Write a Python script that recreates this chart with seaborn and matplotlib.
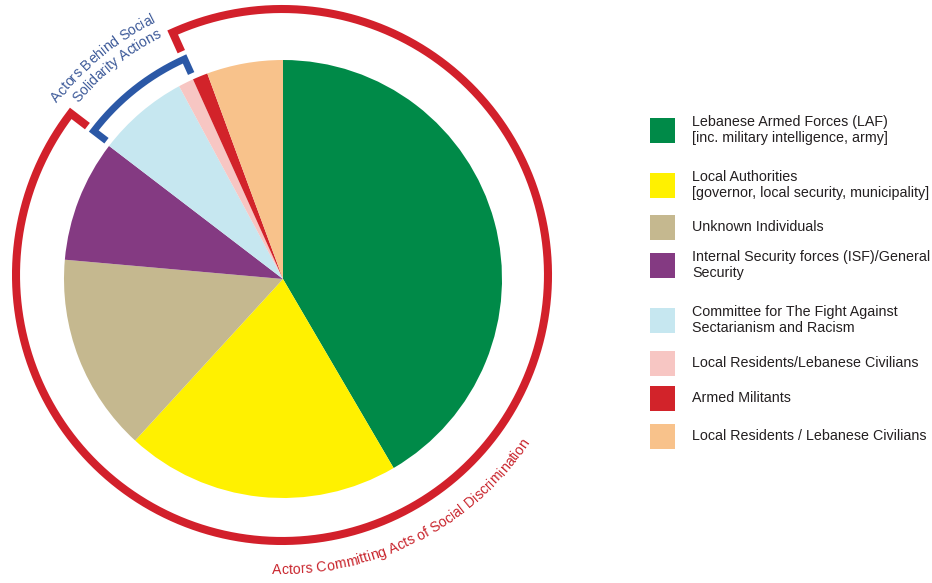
import numpy as np
import matplotlib
matplotlib.use("Agg")
import matplotlib.pyplot as plt
import seaborn as sns
from matplotlib.patches import Rectangle
from matplotlib.font_manager import FontProperties, findfont, get_font

# ---------------- data ----------------
categories = [
    "Lebanese Armed Forces (LAF)\n[inc. military intelligence, army]",
    "Local Authorities\n[governor, local security, municipality]",
    "Unknown Individuals",
    "Internal Security forces (ISF)/General\nSecurity",
    "Committee for The Fight Against\nSectarianism and Racism",
    "Local Residents/Lebanese Civilians",
    "Armed Militants",
    "Local Residents / Lebanese Civilians",
]
values = [37, 18, 13, 8, 6, 1, 1, 5]
groups = ["disc", "disc", "disc", "disc", "sol", "sol", "disc", "disc"]
colors = ["#008a48", "#fff100", "#c5b88f", "#843a82",
          "#c6e7f0", "#f7c6c3", "#d2232a", "#f8c28b"]
label_discrimination = "Actors Committing Acts of Social Discrimination"
label_solidarity = ["Actors Behind Social", "Solidarity Actions"]

# ---------------- style ----------------
sns.set_theme(style="white")
plt.rcParams["font.family"] = ["Liberation Sans", "DejaVu Sans"]

W, H, DPI = 932, 583, 100
fig = plt.figure(figsize=(W / DPI, H / DPI), dpi=DPI)
ax = fig.add_axes([0, 0, 1, 1])

# pie (pixel coordinates, y up)
pie_c = (283, H - 279)
pie_r = 219
ax.pie(values, colors=colors, startangle=90, counterclock=False,
       center=pie_c, radius=pie_r, wedgeprops=dict(linewidth=0))

ax.set_xlim(0, W)
ax.set_ylim(0, H)
ax.set_aspect("auto")
ax.axis("off")

# group boundary angles derived from the data
total = float(sum(values))
cum = np.concatenate([[0], np.cumsum(values)])
sol_idx = [i for i, g in enumerate(groups) if g == "sol"]
a_sol_start = 90 - 360 * cum[min(sol_idx)] / total       # ~142.4
a_sol_end = 90 - 360 * cum[max(sol_idx) + 1] / total      # ~114.3

ring_c = (282, H - 275)
red = "#d2202b"
blue = "#2b58a6"


def bracket(a1, a2, r, r_in, color, lw):
    t = np.radians(np.linspace(a1, a2, 400))
    xs = np.concatenate([[ring_c[0] + r_in * np.cos(t[0])],
                         ring_c[0] + r * np.cos(t),
                         [ring_c[0] + r_in * np.cos(t[-1])]])
    ys = np.concatenate([[ring_c[1] + r_in * np.sin(t[0])],
                         ring_c[1] + r * np.sin(t),
                         [ring_c[1] + r_in * np.sin(t[-1])]])
    ax.plot(xs, ys, color=color, lw=lw, solid_joinstyle="miter",
            solid_capstyle="butt")


# red: everything except the solidarity group
bracket(a_sol_start, a_sol_end + 360, 266, 245, red, 5.8)
# blue: solidarity group
bracket(a_sol_end, a_sol_start, 237, 221, blue, 5.0)


# ---------------- curved text ----------------
def char_advances(text, fs):
    fp = FontProperties(family="Liberation Sans", size=fs)
    font = get_font(findfont(fp))
    font.set_size(fs, DPI)
    adv = []
    for ch in text:
        try:
            g = font.load_char(ord(ch))
            adv.append(g.linearHoriAdvance / 65536.0)
        except Exception:
            adv.append(0.55 * fs * DPI / 72)
    return np.array(adv)


def curved_text(text, r, center_deg, clockwise, fs, color):
    adv = char_advances(text, fs)
    pos = np.cumsum(adv) - adv / 2
    pos -= adv.sum() / 2
    for ch, p in zip(text, pos):
        d = np.degrees(p / r)
        if clockwise:
            a = center_deg - d
            rot = a - 90
        else:
            a = center_deg + d
            rot = a + 90
        x = ring_c[0] + r * np.cos(np.radians(a))
        y = ring_c[1] + r * np.sin(np.radians(a))
        ax.text(x, y, ch, fontsize=fs, color=color, rotation=rot,
                rotation_mode="anchor", ha="center", va="center")


curved_text(label_discrimination, 295, -63, False, 10.2, "#c9252d")
curved_text(label_solidarity[0], 287, 129.5, True, 10.2, "#3d5a99")
curved_text(label_solidarity[1], 271, 128.3, True, 10.2, "#3d5a99")

# ---------------- legend ----------------
leg_y = [130, 185, 227, 265, 320, 363, 398, 436]
for lab, col, yy in zip(categories, colors, leg_y):
    Y = H - yy
    ax.add_patch(Rectangle((650, Y - 12.5), 25, 25, facecolor=col,
                           edgecolor="none"))
    ax.text(692, Y, lab, fontsize=10.3, color="#231f20", ha="left",
            va="center", linespacing=1.2)

fig.savefig("out.png", dpi=DPI, facecolor="white")
